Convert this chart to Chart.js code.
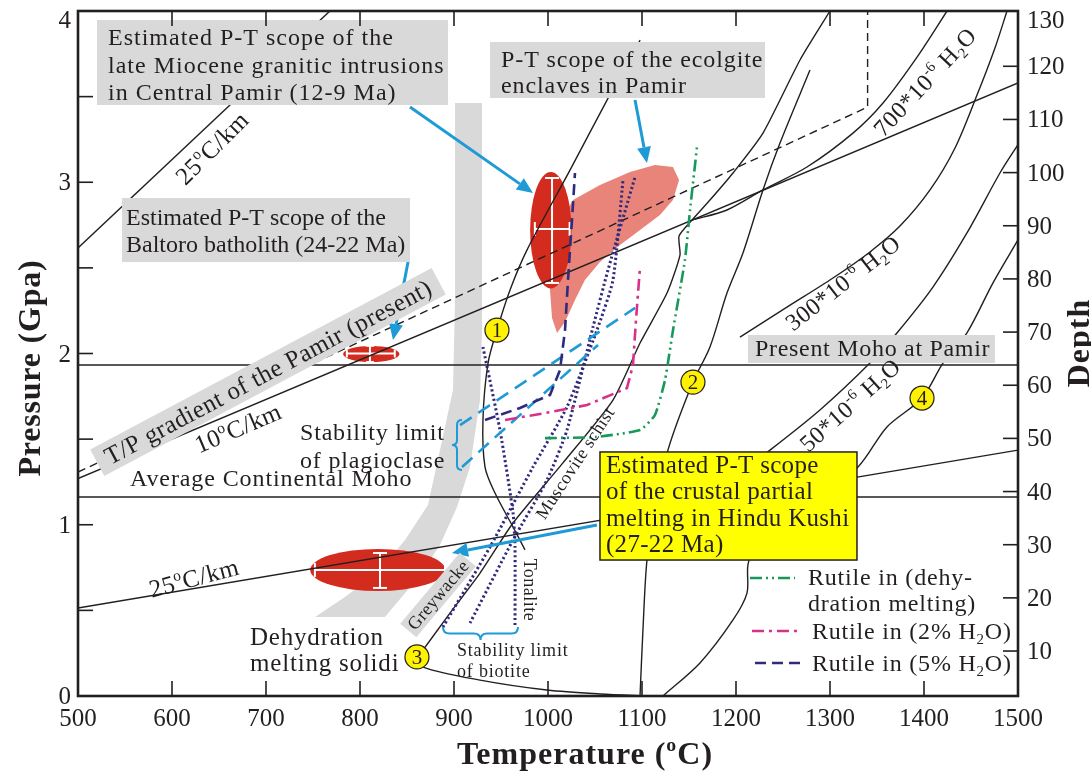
<!DOCTYPE html>
<html>
<head>
<meta charset="utf-8">
<title>P-T diagram</title>
<script src="https://cdn.jsdelivr.net/npm/chart.js@4.4.1/dist/chart.umd.min.js"></script>
<style>
  html, body { margin: 0; padding: 0; background: #fff; }
  canvas { display: block; }
</style>
</head>
<body>
<canvas id="ptChart" width="1091" height="773"></canvas>
<script>
// axes
const tempTicks = [500, 600, 700, 800, 900, 1000, 1100, 1200, 1300, 1400, 1500];
const pressureTicks = [0, 0.5, 1, 1.5, 2, 2.5, 3, 3.5, 4];
const depthTicks = [10, 20, 30, 40, 50, 60, 70, 80, 90, 100, 110, 120, 130];
const depthRange = [1.54, 130.4];

// curves, [T (oC), P (GPa)]
const geotherm25Upper = [[500, 2.616], [768, 4.0]];
const geotherm10 = [[500, 1.27], [1500, 3.58]];
const pamirGradient = [[500, 1.308], [1340, 3.439], [1340, 4.0]];
const geotherm25Lower = [[500, 0.514], [1500, 1.436]];
const mohoPamir = [[500, 1.933], [1500, 1.933]];
const mohoAverage = [[500, 1.162], [1500, 1.162]];

const solidus1 = [[1098, 3.83], [1062.8, 3.48], [1023.4, 3.071], [977.6, 2.604], [959.6, 2.371], [945.7, 2.137],
  [936.2, 1.944], [930.8, 1.612], [933.0, 1.337], [943.6, 1.185], [962.8, 0.987], [975.5, 0.853]];
const solidus2 = [[1278.7, 3.655], [1246.8, 3.229], [1228.7, 2.955], [1207.4, 2.587], [1190.4, 2.353], [1172.3, 2.038],
  [1154.2, 1.833], [1127.6, 1.436], [1113.8, 1.086], [1105.3, 0.794], [1101.0, 0.385], [1097.9, 0]];
const solidus3Low = [[1108.5, 0], [1055.3, 0.012], [998.9, 0.035], [927.7, 0.093], [867.0, 0.169], [861.7, 0.228]];
const solidus3 = [[861.7, 0.228], [892.6, 0.461], [927.7, 0.718], [962.8, 1.010], [1015.9, 1.361], [1069.1, 1.728],
  [1097.9, 2.061], [1126.6, 2.353], [1140.4, 2.575], [1139.4, 2.686], [1153.2, 2.779], [1172.3, 2.896],
  [1196.8, 3.054], [1228.7, 3.287], [1268.1, 3.714], [1300, 4.0]];
const solidus4 = [[1500, 2.663], [1473.4, 2.412], [1445.7, 2.120], [1420.2, 1.944], [1397.9, 1.740], [1360.6, 1.571],
  [1329.8, 1.337], [1268.1, 1.057], [1220.2, 0.864], [1212.7, 0.765], [1211.7, 0.601], [1196.8, 0.444],
  [1161.7, 0.193], [1122.3, 0]];
const water700 = [[1153.2, 2.779], [1190.4, 2.838], [1228.7, 2.955], [1275.5, 3.089], [1324.4, 3.287],
  [1356.4, 3.463], [1392.6, 3.731], [1424.5, 4.0]];
const water300 = [[1204.2, 2.096], [1254.2, 2.271], [1303.2, 2.441], [1342.5, 2.593], [1374.4, 2.744],
  [1406.4, 2.955], [1433.0, 3.2], [1456.4, 3.509], [1475.5, 3.784], [1488.3, 4.0]];
const water50 = [[1204.2, 1.308], [1236.2, 1.436], [1289.3, 1.670], [1342.5, 1.944], [1371.2, 2.120],
  [1409.5, 2.388], [1445.7, 2.704], [1480.8, 3.054], [1500, 3.22]];

const biotiteGreywacke = [[888.3, 0.403], [938.3, 0.870], [984.0, 1.337], [1020.2, 1.688], [1052.1, 2.137],
  [1069.1, 2.429], [1079.8, 3.013]];
const biotiteMuscovite = [[917.0, 0.426], [962.8, 0.911], [998.9, 1.261], [1020.2, 1.553], [1047.9, 2.155],
  [1063.8, 2.487], [1092.6, 3.031]];
const biotiteTonalite = [[930.8, 2.038], [948.9, 1.553], [962.8, 1.069], [964.9, 0.870], [964.9, 0.403]];
const plagioclaseUpper = [[906.4, 1.582], [1092.6, 2.266]];
const plagioclaseLower = [[908.5, 1.337], [1053.2, 2.050]];

const rutile5 = [[933.0, 1.612], [970.2, 1.682], [1002.1, 1.758], [1012.8, 1.904], [1018.1, 2.137],
  [1021.3, 2.429], [1025.5, 2.779], [1028.7, 3.054]];
const rutile2 = [[954.3, 1.612], [996.8, 1.652], [1041.5, 1.699], [1084.0, 1.798], [1090.4, 1.933],
  [1093.6, 2.195], [1097.9, 2.505]];
const rutileDehydration = [[996.8, 1.506], [1050.0, 1.512], [1097.9, 1.553], [1113.8, 1.641], [1124.5, 1.845],
  [1133.0, 2.137], [1145.7, 2.546], [1151.1, 2.838], [1158.5, 3.206]];

// fields
const eclogiteField = [[1026.6, 2.896], [1055.3, 2.984], [1087.2, 3.060], [1113.8, 3.101], [1132.9, 3.089],
  [1139.4, 3.013], [1132.9, 2.896], [1119.1, 2.809], [1097.9, 2.721], [1076.6, 2.634], [1055.3, 2.534],
  [1039.3, 2.429], [1028.7, 2.312], [1018.1, 2.184], [1009.6, 2.120], [1004.3, 2.207], [1002.1, 2.371],
  [1004.3, 2.546], [1012.8, 2.721], [1019.1, 2.826]];
const meltingBand = [[929.8, 3.463], [929.8, 2.137], [927.7, 1.728], [917.0, 1.337], [903.2, 1.104],
  [885.1, 0.882], [861.7, 0.689], [837.2, 0.531], [826.6, 0.461], [752.1, 0.461], [784.0, 0.578],
  [819.1, 0.724], [847.9, 0.911], [872.3, 1.115], [885.1, 1.436], [898.9, 1.787], [901.1, 2.312], [901.1, 3.463]];

// estimated P-T scopes: centre and half ranges
const scopeEllipses = [
  { T: 1003, P: 2.72, dT: 22, dP: 0.34 },
  { T: 812, P: 1.997, dT: 30, dP: 0.047 },
  { T: 819, P: 0.736, dT: 72, dP: 0.123 }
];
const scopeBars = [
  { T: 1004.3, P: 2.727, tLo: 986, tHi: 1023, pLo: 2.412, pHi: 3.025 },
  { T: 810.6, P: 2.0, tLo: 786, tHi: 837, pLo: 1.95, pHi: 2.045 },
  { T: 821.3, P: 0.736, tLo: 752, tHi: 890.4, pLo: 0.631, pHi: 0.835 }
];
const arrowPaths = [
  [[853.2, 3.439], [984.0, 2.937]],
  [[1092.6, 3.48], [1105.3, 3.112]],
  [[851.1, 2.534], [835.1, 2.079]],
  [[1052.1, 0.999], [897.9, 0.835]]
];

const GREY = '#d9d9d9';
const INK = '#231f20';
const RED = '#d42b1f';
const SALMON = '#e9847b';
const BLUE = '#1e9bd7';
const NAVY = '#2f2a7c';
const MAGENTA = '#d8318a';
const GREEN = '#17995a';
const FONT = '"Liberation Serif", "Times New Roman", serif';

const dashNavy = [11, 6];
const dashMagenta = [12, 5, 3, 5];
const dashGreen = [12, 4, 2, 4, 2, 4];
const dashDots = [2.2, 2.6];

const boxes = [
  { t1: 520.2, p1: 3.947, t2: 893.6, p2: 3.451, fill: GREY, pad: 11, first: 25, lh: 27.5, size: 24, ls: 1,
    lines: ['Estimated P-T scope of the', 'late Miocene granitic intrusions', 'in Central Pamir (12-9 Ma)'] },
  { t1: 938.3, p1: 3.819, t2: 1230.8, p2: 3.492, fill: GREY, pad: 11, first: 25, lh: 26, size: 24, ls: 0.9,
    lines: ['P-T scope of the ecolgite', 'enclaves in Pamir'] },
  { t1: 546.8, p1: 2.908, t2: 853.2, p2: 2.534, fill: GREY, pad: 4, first: 27, lh: 27, size: 24, ls: 0,
    lines: ['Estimated P-T scope of the', 'Baltoro batholith (24-22 Ma)'] },
  { t1: 1212.7, p1: 2.108, t2: 1475.5, p2: 1.945, fill: GREY, pad: 7, first: 21, lh: 26, size: 24, ls: 0.7,
    lines: ['Present Moho at Pamir'] },
  { t1: 1055.3, p1: 1.425, t2: 1328.7, p2: 0.794, fill: '#ffff00', stroke: INK, pad: 6, first: 21, lh: 26.5, size: 25, ls: 0.3,
    lines: ['Estimated P-T scope', 'of the crustal partial', 'melting in Hindu Kushi', '(27-22 Ma)'] }
];
const greyTags = [
  { text: 'T/P gradient of the Pamir (present)', T: 702.1, P: 1.892, deg: -28, size: 25, padX: 10, h: 30, ls: 0.5 },
  { text: 'Greywacke', T: 883.0, P: 0.590, deg: -50, size: 18, padX: 4, h: 21, ls: 0.3 }
];
const rotNotes = [
  { segs: [['25'], ['o', 1], ['C/km']], T: 642.6, P: 3.2, deg: -45, size: 25 },
  { segs: [['10'], ['o', 1], ['C/km']], T: 670.2, P: 1.565, deg: -23, size: 25 },
  { segs: [['25'], ['o', 1], ['C/km']], T: 623.4, P: 0.689, deg: -15, size: 25 },
  { segs: [['700*10'], ['-6', 1], [' H'], ['2', -1], ['O']], T: 1401.0, P: 3.585, deg: -47, size: 24 },
  { segs: [['300*10'], ['-6', 1], [' H'], ['2', -1], ['O']], T: 1313.8, P: 2.412, deg: -38, size: 24 },
  { segs: [['50*10'], ['-6', 1], [' H'], ['2', -1], ['O']], T: 1321.3, P: 1.699, deg: -42, size: 24 },
  { segs: [['Muscovite schist']], T: 1028.7, P: 1.361, deg: -57, size: 18 },
  { segs: [['Tonalite']], T: 980.9, P: 0.619, deg: 90, size: 18 }
];
const plainNotes = [
  { text: 'Stability limit', T: 736.2, P: 1.542, size: 24, ls: 0.8 },
  { text: 'of plagioclase', T: 736.2, P: 1.378, size: 24, ls: 0.8 },
  { text: 'Average Continental Moho', T: 555.3, P: 1.273, size: 24, ls: 0.9 },
  { text: 'Dehydration', T: 683.0, P: 0.345, size: 25, ls: 0.8 },
  { text: 'melting solidi', T: 683.0, P: 0.193, size: 25, ls: 0.8 },
  { text: 'Stability limit', T: 903.2, P: 0.269, size: 18, ls: 0.8 },
  { text: 'of biotite', T: 903.2, P: 0.146, size: 18, ls: 0.8 }
];
const circledNumbers = [
  { n: '1', T: 945.7, P: 2.137 }, { n: '2', T: 1154.2, P: 1.833 },
  { n: '3', T: 860.6, P: 0.228 }, { n: '4', T: 1397.9, P: 1.740 }
];
const legendItems = [
  { color: GREEN, dash: dashGreen, t1: 1214.9, t2: 1262.8, P: 0.689, tx: 1276.6,
    rows: [[['Rutile in (dehy-']], [['dration melting)']]], rowP: [0.695, 0.543] },
  { color: MAGENTA, dash: dashMagenta, t1: 1217, t2: 1266, P: 0.380, tx: 1280.8,
    rows: [[['Rutile in (2% H'], ['2', -1], ['O)']]], rowP: [0.380] },
  { color: NAVY, dash: dashNavy, t1: 1220.2, t2: 1268.1, P: 0.193, tx: 1280.8,
    rows: [[['Rutile in (5% H'], ['2', -1], ['O)']]], rowP: [0.193] }
];

function lineSet(label, pts, color, width, dash, tension) {
  return {
    label, data: pts.map(([x, y]) => ({ x, y })), showLine: true,
    borderColor: color, borderWidth: width, borderDash: dash || [],
    pointRadius: 0, pointHoverRadius: 0, fill: false, tension: tension || 0
  };
}

function rich(ctx, segs, x, y, size, align, bold, ls) {
  const f = s => (bold ? 'bold ' : '') + s + 'px ' + FONT;
  ctx.letterSpacing = (ls || 0) + 'px';
  let w = 0;
  segs.forEach(([t, m]) => { ctx.font = f(m ? size * 0.62 : size); w += ctx.measureText(t).width; });
  let cx = align === 'center' ? x - w / 2 : (align === 'right' ? x - w : x);
  ctx.textAlign = 'left';
  ctx.textBaseline = 'alphabetic';
  segs.forEach(([t, m]) => {
    ctx.font = f(m ? size * 0.62 : size);
    const dy = m === 1 ? -size * 0.4 : (m === -1 ? size * 0.2 : 0);
    ctx.fillText(t, cx, y + dy);
    cx += ctx.measureText(t).width;
  });
  ctx.letterSpacing = '0px';
  return w;
}

const diagramPlugin = {
  id: 'ptDiagram',
  beforeDatasetsDraw(chart) {
    const { ctx, chartArea: a } = chart;
    const X = v => chart.scales.x.getPixelForValue(v);
    const Y = v => chart.scales.y.getPixelForValue(v);
    const poly = (pts, color) => {
      ctx.beginPath();
      pts.forEach(([t, p], i) => i ? ctx.lineTo(X(t), Y(p)) : ctx.moveTo(X(t), Y(p)));
      ctx.closePath();
      ctx.fillStyle = color;
      ctx.fill();
    };
    ctx.save();
    ctx.beginPath();
    ctx.rect(a.left, a.top, a.right - a.left, a.bottom - a.top);
    ctx.clip();
    poly(meltingBand, GREY);
    poly(eclogiteField, SALMON);
    scopeEllipses.forEach(e => {
      const cx = X(e.T), cy = Y(e.P);
      ctx.beginPath();
      ctx.ellipse(cx, cy, X(e.T + e.dT) - cx, cy - Y(e.P + e.dP), 0, 0, Math.PI * 2);
      ctx.fillStyle = RED;
      ctx.fill();
    });
    ctx.strokeStyle = '#fff';
    ctx.lineWidth = 2;
    const seg = (x1, y1, x2, y2) => { ctx.beginPath(); ctx.moveTo(x1, y1); ctx.lineTo(x2, y2); ctx.stroke(); };
    scopeBars.forEach((b, i) => {
      const cap = i === 1 ? 4 : 7;
      const yc = Y(b.P), xl = X(b.tLo), xr = X(b.tHi);
      seg(xl, yc, xr, yc); seg(xl, yc - cap, xl, yc + cap); seg(xr, yc - cap, xr, yc + cap);
      const xc = X(b.T), yt = Y(b.pHi), yb = Y(b.pLo);
      seg(xc, yt, xc, yb); seg(xc - cap, yt, xc + cap, yt); seg(xc - cap, yb, xc + cap, yb);
    });
    ctx.restore();
  },
  afterDatasetsDraw(chart) {
    const { ctx, chartArea: a } = chart;
    const X = v => chart.scales.x.getPixelForValue(v);
    const Y = v => chart.scales.y.getPixelForValue(v);
    const Y2 = v => chart.scales.y2.getPixelForValue(v);
    ctx.save();

    // arrows
    arrowPaths.forEach(([[t1, p1], [t2, p2]]) => {
      const x1 = X(t1), y1 = Y(p1), x2 = X(t2), y2 = Y(p2);
      const ang = Math.atan2(y2 - y1, x2 - x1), L = 16, W = 7;
      const bx = x2 - L * Math.cos(ang), by = y2 - L * Math.sin(ang);
      ctx.strokeStyle = BLUE; ctx.fillStyle = BLUE; ctx.lineWidth = 3; ctx.setLineDash([]);
      ctx.beginPath(); ctx.moveTo(x1, y1); ctx.lineTo(bx, by); ctx.stroke();
      ctx.beginPath();
      ctx.moveTo(x2, y2);
      ctx.lineTo(bx + W * Math.sin(ang), by - W * Math.cos(ang));
      ctx.lineTo(bx - W * Math.sin(ang), by + W * Math.cos(ang));
      ctx.closePath(); ctx.fill();
    });

    // label boxes
    boxes.forEach(b => {
      const x1 = X(b.t1), y1 = Y(b.p1), x2 = X(b.t2), y2 = Y(b.p2);
      ctx.fillStyle = b.fill;
      ctx.fillRect(x1, y1, x2 - x1, y2 - y1);
      if (b.stroke) { ctx.strokeStyle = b.stroke; ctx.lineWidth = 1.5; ctx.strokeRect(x1, y1, x2 - x1, y2 - y1); }
      ctx.fillStyle = INK;
      b.lines.forEach((l, i) => rich(ctx, [[l]], x1 + b.pad, y1 + b.first + i * b.lh, b.size, 'left', false, b.ls));
    });

    greyTags.forEach(g => {
      ctx.save();
      ctx.translate(X(g.T), Y(g.P));
      ctx.rotate(g.deg * Math.PI / 180);
      ctx.font = g.size + 'px ' + FONT;
      ctx.letterSpacing = g.ls + 'px';
      const w = ctx.measureText(g.text).width + 2 * g.padX;
      ctx.fillStyle = GREY;
      ctx.fillRect(-w / 2, -g.h / 2, w, g.h);
      ctx.fillStyle = INK;
      rich(ctx, [[g.text]], 0, g.size * 0.33, g.size, 'center', false, g.ls);
      ctx.restore();
    });

    ctx.fillStyle = INK;
    rotNotes.forEach(n => {
      ctx.save();
      ctx.translate(X(n.T), Y(n.P));
      ctx.rotate(n.deg * Math.PI / 180);
      rich(ctx, n.segs, 0, n.size * 0.33, n.size, 'center', false, 0.5);
      ctx.restore();
    });
    plainNotes.forEach(n => rich(ctx, [[n.text]], X(n.T), Y(n.P) + n.size * 0.33, n.size, 'left', false, n.ls));

    // braces
    ctx.strokeStyle = BLUE; ctx.lineWidth = 2; ctx.setLineDash([]);
    (function () {
      const xTip = X(897.9), xEnd = X(908.5), y1 = Y(1.612), y2 = Y(1.320);
      const ym = (y1 + y2) / 2, h = (xEnd - xTip) / 2;
      ctx.beginPath();
      ctx.moveTo(xEnd, y1);
      ctx.quadraticCurveTo(xTip + h, y1, xTip + h, y1 + h);
      ctx.lineTo(xTip + h, ym - h);
      ctx.quadraticCurveTo(xTip + h, ym, xTip, ym);
      ctx.quadraticCurveTo(xTip + h, ym, xTip + h, ym + h);
      ctx.lineTo(xTip + h, y2 - h);
      ctx.quadraticCurveTo(xTip + h, y2, xEnd, y2);
      ctx.stroke();
      const x1 = X(888.3), x2 = X(968.1), yTop = Y(0.403), yTip = Y(0.327);
      const xm = (x1 + x2) / 2, d = (yTip - yTop) / 2;
      ctx.beginPath();
      ctx.moveTo(x1, yTop);
      ctx.quadraticCurveTo(x1, yTop + d, x1 + d, yTop + d);
      ctx.lineTo(xm - d, yTop + d);
      ctx.quadraticCurveTo(xm, yTop + d, xm, yTip);
      ctx.quadraticCurveTo(xm, yTop + d, xm + d, yTop + d);
      ctx.lineTo(x2 - d, yTop + d);
      ctx.quadraticCurveTo(x2, yTop + d, x2, yTop);
      ctx.stroke();
    })();

    // circled numbers
    circledNumbers.forEach(c => {
      const cx = X(c.T), cy = Y(c.P);
      ctx.beginPath(); ctx.arc(cx, cy, 12, 0, Math.PI * 2);
      ctx.fillStyle = '#fff200'; ctx.fill();
      ctx.strokeStyle = INK; ctx.lineWidth = 1.2; ctx.stroke();
      ctx.fillStyle = INK;
      rich(ctx, [[c.n]], cx, cy + 7, 21, 'center');
    });

    // legend
    legendItems.forEach(it => {
      ctx.strokeStyle = it.color; ctx.lineWidth = 2.6; ctx.setLineDash(it.dash);
      ctx.beginPath(); ctx.moveTo(X(it.t1), Y(it.P)); ctx.lineTo(X(it.t2), Y(it.P)); ctx.stroke();
      ctx.setLineDash([]);
      ctx.fillStyle = INK;
      it.rows.forEach((r, i) => rich(ctx, r, X(it.tx), Y(it.rowP[i]) + 8, 24, 'left', false, 0.8));
    });

    // frame and inward ticks
    ctx.setLineDash([]);
    ctx.strokeStyle = INK;
    ctx.lineWidth = 1.6;
    const seg = (x1, y1, x2, y2) => { ctx.beginPath(); ctx.moveTo(x1, y1); ctx.lineTo(x2, y2); ctx.stroke(); };
    pressureTicks.forEach(p => { if (p > 0 && p < 4) seg(a.left, Y(p), a.left + 15, Y(p)); });
    tempTicks.forEach(t => {
      if (t > 500 && t < 1500) { seg(X(t), a.bottom, X(t), a.bottom - 15); seg(X(t), a.top, X(t), a.top + 15); }
    });
    depthTicks.forEach(d => { if (d < 130) seg(a.right, Y2(d), a.right - 15, Y2(d)); });
    ctx.lineWidth = 2.6;
    ctx.strokeRect(a.left, a.top, a.right - a.left, a.bottom - a.top);

    // tick labels
    ctx.fillStyle = INK;
    tempTicks.forEach(t => rich(ctx, [[String(t)]], X(t), a.bottom + 30, 25, 'center'));
    pressureTicks.forEach(p => {
      if (Number.isInteger(p)) rich(ctx, [[String(p)]], a.left - 7, Math.max(Y(p), a.top + 9) + 8, 25, 'right');
    });
    depthTicks.forEach(d => rich(ctx, [[String(d)]], a.right + 9, Math.max(Y2(d), a.top + 9) + 8, 25, 'left'));

    // axis titles
    rich(ctx, [['Temperature ('], ['o', 1], ['C)']], 585, 764, 32, 'center', true, 1);
    ctx.save(); ctx.translate(40, 368); ctx.rotate(-Math.PI / 2);
    rich(ctx, [['Pressure (Gpa)']], 0, 0, 32, 'center', true, 0.8);
    ctx.restore();
    ctx.save(); ctx.translate(1089, 343); ctx.rotate(-Math.PI / 2);
    rich(ctx, [['Depth']], 0, 0, 32, 'center', true, 1);
    ctx.restore();

    ctx.restore();
  }
};

const datasets = [
  lineSet('Rutile in (5% H2O)', rutile5, NAVY, 2.6, dashNavy),
  lineSet('Rutile in (2% H2O)', rutile2, MAGENTA, 2.6, dashMagenta),
  lineSet('Rutile in (dehydration melting)', rutileDehydration, GREEN, 2.6, dashGreen, 0.15),
  lineSet('Plagioclase limit (upper)', plagioclaseUpper, BLUE, 2.6, [14, 8]),
  lineSet('Plagioclase limit (lower)', plagioclaseLower, BLUE, 2.6, [14, 8]),
  lineSet('Biotite - greywacke', biotiteGreywacke, NAVY, 3, dashDots, 0.2),
  lineSet('Biotite - muscovite schist', biotiteMuscovite, NAVY, 3, dashDots, 0.2),
  lineSet('Biotite - tonalite', biotiteTonalite, NAVY, 3, dashDots, 0.2),
  lineSet('Solidus 1', solidus1, INK, 1.4, null, 0.3),
  lineSet('Solidus 2', solidus2, INK, 1.4, null, 0.3),
  lineSet('Solidus 3 (low)', solidus3Low, INK, 1.4, null, 0.3),
  lineSet('Solidus 3', solidus3, INK, 1.4, null, 0.2),
  lineSet('Solidus 4', solidus4, INK, 1.4, null, 0.3),
  lineSet('700 ppm H2O', water700, INK, 1.4, null, 0.3),
  lineSet('300 ppm H2O', water300, INK, 1.4, null, 0.3),
  lineSet('50 ppm H2O', water50, INK, 1.4, null, 0.3),
  lineSet('25 C/km (upper)', geotherm25Upper, INK, 1.4),
  lineSet('10 C/km', geotherm10, INK, 1.4),
  lineSet('T/P gradient of the Pamir', pamirGradient, INK, 1.4, [8, 5]),
  lineSet('25 C/km (lower)', geotherm25Lower, INK, 1.4),
  lineSet('Present Moho at Pamir', mohoPamir, INK, 1.4),
  lineSet('Average Continental Moho', mohoAverage, INK, 1.4)
];

new Chart(document.getElementById('ptChart'), {
  type: 'scatter',
  data: { datasets },
  options: {
    responsive: false,
    animation: false,
    devicePixelRatio: 1,
    layout: { padding: { top: 11, left: 0, right: 0, bottom: 0 } },
    plugins: { legend: { display: false }, tooltip: { enabled: false }, title: { display: false } },
    scales: {
      x: {
        type: 'linear', position: 'bottom', min: 500, max: 1500,
        ticks: { display: false }, grid: { display: false }, border: { display: false },
        afterBuildTicks: s => { s.ticks = tempTicks.map(v => ({ value: v })); },
        afterFit: s => { s.height = 77; }
      },
      y: {
        type: 'linear', position: 'left', min: 0, max: 4,
        ticks: { display: false }, grid: { display: false }, border: { display: false },
        afterBuildTicks: s => { s.ticks = pressureTicks.map(v => ({ value: v })); },
        afterFit: s => { s.width = 78; }
      },
      y2: {
        type: 'linear', position: 'right', min: depthRange[0], max: depthRange[1],
        ticks: { display: false }, grid: { display: false }, border: { display: false },
        afterBuildTicks: s => { s.ticks = depthTicks.map(v => ({ value: v })); },
        afterFit: s => { s.width = 73; }
      }
    }
  },
  plugins: [diagramPlugin]
});
</script>
</body>
</html>
